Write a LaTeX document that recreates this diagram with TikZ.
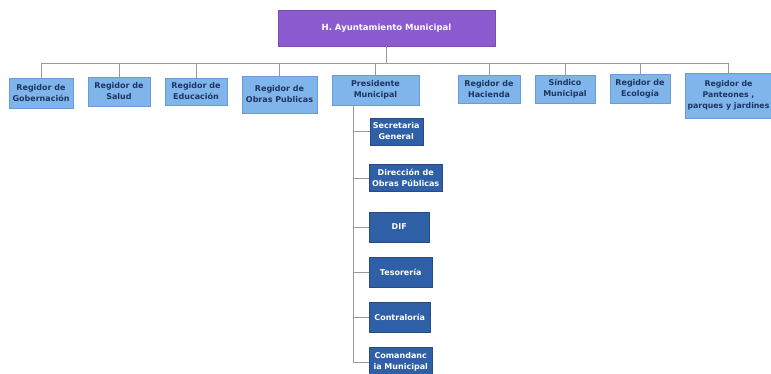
\documentclass[tikz,border=0pt]{standalone}
\usepackage{fontspec}
\setsansfont{DejaVu Sans}
\definecolor{ayufondo}{HTML}{8C5BCF}
\definecolor{regfondo}{HTML}{80B5EC}
\definecolor{regborde}{HTML}{6A9BD6}
\definecolor{regtexto}{HTML}{1E3560}
\definecolor{depfondo}{HTML}{2F5FA6}
\definecolor{linea}{HTML}{999999}

\begin{document}
\begin{tikzpicture}[x=1pt,y=-1pt,
  caja/.style={draw,align=center,inner sep=1pt,font=\sffamily\bfseries\fontsize{8}{11}\selectfont},
  ayto/.style={caja,draw=ayufondo!85!black,fill=ayufondo,text=white,font=\sffamily\bfseries\fontsize{8.5}{10}\selectfont},
  regidor/.style={caja,draw=regborde,fill=regfondo,text=regtexto},
  dep/.style={caja,draw=depfondo!80!black,fill=depfondo,text=white,anchor=west},
  rama/.style={draw=linea,line width=0.6pt}]
\useasboundingbox (0,0) rectangle (771,373);

\node[ayto,minimum width=217pt,minimum height=36pt] (ayu) at (386.5,28) {H. Ayuntamiento Municipal};

\node[regidor,minimum width=64pt,minimum height=30pt] (gob) at (41,93) {Regidor de\\Gobernación};
\node[regidor,minimum width=62pt,minimum height=29pt] (sal) at (119,91.5) {Regidor de\\Salud};
\node[regidor,minimum width=62pt,minimum height=27pt] (edu) at (196,91.5) {Regidor de\\Educación};
\node[regidor,minimum width=75pt,minimum height=37pt] (obr) at (279.5,94.5) {Regidor de\\Obras Publicas};
\node[regidor,minimum width=87pt,minimum height=30pt] (pre) at (375.5,90) {Presidente\\Municipal};
\node[regidor,minimum width=62pt,minimum height=28pt] (hac) at (489,89) {Regidor de\\Hacienda};
\node[regidor,minimum width=60pt,minimum height=28pt] (sin) at (565,89) {Síndico\\Municipal};
\node[regidor,minimum width=60pt,minimum height=29pt] (eco) at (640,88.5) {Regidor de\\Ecología};
\node[regidor,minimum width=86pt,minimum height=45pt,font=\sffamily\bfseries\fontsize{7.8}{11}\selectfont] (pan) at (728.5,95.5) {Regidor de\\Panteones ,\\parques y jardines};

\node[dep,minimum width=53pt,minimum height=27pt] (sec) at (369.5,131.5) {Secretaria\\General};
\node[dep,minimum width=73pt,minimum height=27pt] (dir) at (369,178) {Dirección de\\Obras Públicas};
\node[dep,minimum width=60pt,minimum height=30pt] (dif) at (369,227) {DIF};
\node[dep,minimum width=63pt,minimum height=30pt] (tes) at (369,272) {Tesorería};
\node[dep,minimum width=61pt,minimum height=30pt] (con) at (369,317) {Contraloría};
\node[dep,minimum width=63pt,minimum height=30pt] (com) at (369,362) {Comandanc\\ia Municipal};

\coordinate (bus) at (0,63);
\coordinate (eje) at (353,0);

\draw[rama] (ayu.south) -- (ayu.south |- bus);
\draw[rama] (gob.north |- bus) -- (pan.north |- bus);
\foreach \n in {gob,sal,edu,obr,pre,hac,sin,eco,pan}
  \draw[rama] (\n.north) -- (\n.north |- bus);

\draw[rama] (pre.south -| eje) -- (com.west -| eje);
\foreach \n in {sec,dir,dif,tes,con,com}
  \draw[rama] (\n.west -| eje) -- (\n.west);
\end{tikzpicture}
\end{document}
